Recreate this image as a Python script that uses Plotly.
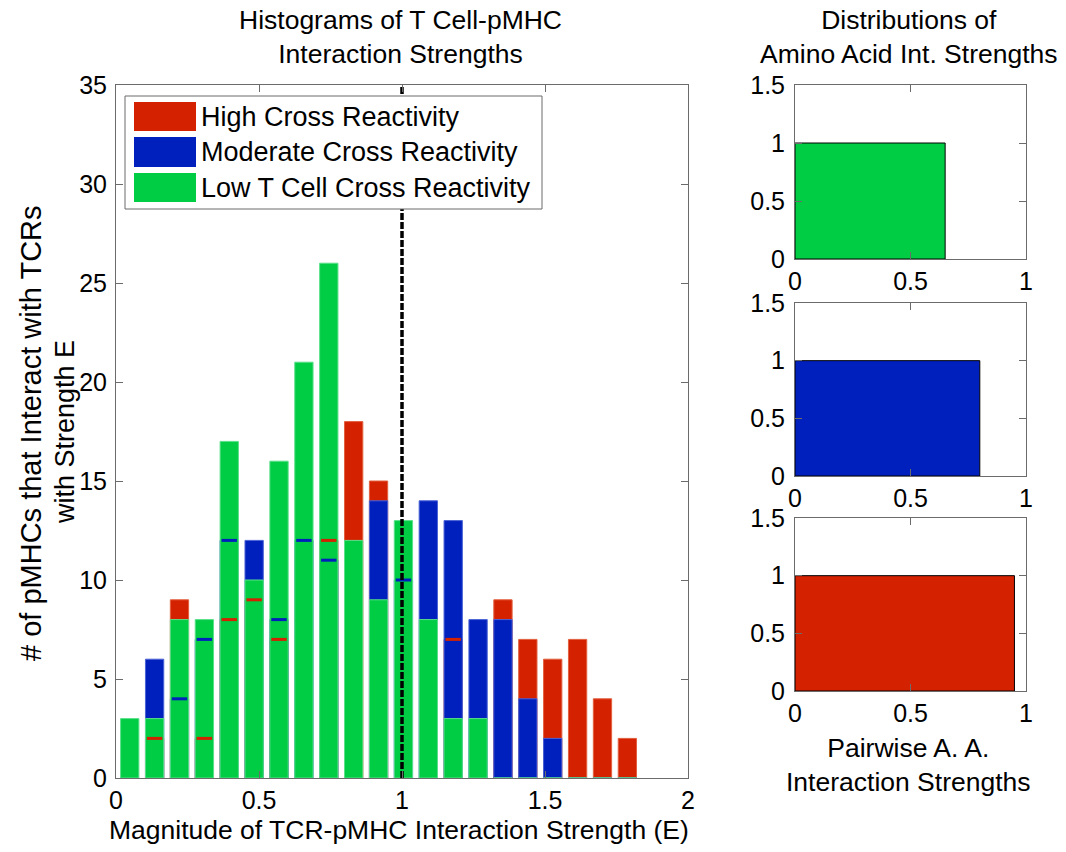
import plotly.graph_objects as go

# ---------------- data ----------------
bin_centers = [0.048, 0.135, 0.222, 0.309, 0.396, 0.483, 0.57, 0.657, 0.744, 0.831,
               0.918, 1.005, 1.092, 1.179, 1.266, 1.353, 1.44, 1.527, 1.614, 1.701, 1.788]
high_counts = [0, 2, 9, 2, 8, 9, 7, 0, 12, 18, 15, 0, 0, 7, 0, 9, 7, 6, 7, 4, 2]
moderate_counts = [0, 6, 4, 7, 12, 12, 8, 12, 11, 0, 14, 10, 14, 13, 8, 8, 4, 2, 0, 0, 0]
low_counts = [3, 3, 8, 8, 17, 10, 16, 21, 26, 12, 9, 13, 8, 3, 3, 0, 0, 0, 0, 0, 0]
series_names = ["High Cross Reactivity", "Moderate Cross Reactivity", "Low T Cell Cross Reactivity"]
series_colors = ["#D42100", "#0020BE", "#00CC44"]
edge_colors = ["#E2603F", "#4A63D6", "#5BE08A"]
threshold_E = 1.0

# amino-acid interaction strength distributions (one bin each)
aa_upper = {"low": 0.65, "moderate": 0.80, "high": 0.95}
aa_height = {"low": 1, "moderate": 1, "high": 1}

W, H = 1066, 852
FONT = "Liberation Sans"
AX = "#6b6b6b"
TFS = 25      # tick labels
FS = 26.5     # titles
LFS = 27      # legend

def px(x):
    return x / W

def py(y):
    return 1 - y / H

fig = go.Figure()

series = [high_counts, moderate_counts, low_counts]
for name, vals, col, ec in zip(series_names, series, series_colors, edge_colors):
    fig.add_trace(go.Bar(x=bin_centers, y=vals, width=0.064, name=name,
                         marker=dict(color=col, line=dict(color=ec, width=1)),
                         xaxis="x", yaxis="y", showlegend=False))

# hidden bar tops (drawn as short dashes)
for i, (vals, col) in enumerate(zip(series, series_colors)):
    hx, hy = [], []
    for k, v in enumerate(vals):
        later = [s[k] for s in series[i + 1:]]
        if v > 0 and later and v < max(later):
            hx.append(bin_centers[k])
            hy.append(v)
    if hx:
        fig.add_trace(go.Scatter(x=hx, y=hy, mode="markers", showlegend=False,
                                 marker=dict(symbol="line-ew", size=11,
                                             line=dict(color=col, width=3)),
                                 xaxis="x", yaxis="y"))

# threshold line
fig.add_trace(go.Scatter(x=[threshold_E, threshold_E], y=[0, 35], mode="lines",
                         line=dict(color="black", width=3.5, dash="7px,2px"),
                         showlegend=False, xaxis="x", yaxis="y"))

# right panels
for key, col, xa, ya in [("low", series_colors[2], "x2", "y2"),
                         ("moderate", series_colors[1], "x3", "y3"),
                         ("high", series_colors[0], "x4", "y4")]:
    fig.add_trace(go.Bar(x=[0], y=[aa_height[key]], width=[aa_upper[key]], offset=0,
                         marker=dict(color=col, line=dict(color="black", width=1)),
                         showlegend=False, xaxis=xa, yaxis=ya))

tickfont = dict(family=FONT, size=TFS, color="black")
common = dict(showline=True, linecolor=AX, linewidth=1, mirror="ticks", ticks="inside",
              tickcolor=AX, ticklen=7, showgrid=False, zeroline=False, tickfont=tickfont,
              automargin=False)

main_x = [116, 688]
main_y = [85, 778]
rx = [795, 1026]
ry = [[85, 259], [303, 476], [518, 691]]

fig.update_layout(
    width=W, height=H, margin=dict(l=0, r=0, t=0, b=0, autoexpand=False),
    paper_bgcolor="white", plot_bgcolor="white", barmode="overlay",
    font=dict(family=FONT, size=FS, color="black"),
    xaxis=dict(domain=[px(main_x[0]), px(main_x[1])], range=[0, 2], tickvals=[0, 0.5, 1, 1.5, 2],
               ticktext=["0", "0.5", "1", "1.5", "2"], anchor="y", **common),
    yaxis=dict(domain=[py(main_y[1]), py(main_y[0])], range=[0, 35], tickvals=list(range(0, 36, 5)),
               anchor="x", ticklabelstandoff=3, **common),
)
for i, (xa, ya) in enumerate([("xaxis2", "yaxis2"), ("xaxis3", "yaxis3"), ("xaxis4", "yaxis4")]):
    n = i + 2
    fig.update_layout(**{
        xa: dict(domain=[px(rx[0]), px(rx[1])], range=[0, 1], tickvals=[0, 0.5, 1],
                 ticktext=["0", "0.5", "1"], anchor=f"y{n}", **common),
        ya: dict(domain=[py(ry[i][1]), py(ry[i][0])], range=[0, 1.5], tickvals=[0, 0.5, 1, 1.5],
                 ticktext=["0", "0.5", "1", "1.5"], anchor=f"x{n}", ticklabelstandoff=4, **common),
    })

# legend drawn inside the main axes
def dx(p):
    return (p - main_x[0]) / (main_x[1] - main_x[0])

def dy(p):
    return 1 - (p - main_y[0]) / (main_y[1] - main_y[0])

shapes = [dict(type="rect", xref="x domain", yref="y domain", x0=dx(125), x1=dx(542),
               y0=dy(209), y1=dy(96), line=dict(color=AX, width=1), fillcolor="white", layer="above")]
rows = [(102, 131), (137, 167), (173, 202)]
annotations = []
for (t, b), name, col in zip(rows, series_names, series_colors):
    shapes.append(dict(type="rect", xref="x domain", yref="y domain", x0=dx(134), x1=dx(196),
                       y0=dy(b), y1=dy(t), line=dict(color=col, width=0), fillcolor=col, layer="above"))
    annotations.append(dict(xref="x domain", yref="y domain", x=dx(199), y=dy((t + b) / 2),
                            text=name, showarrow=False, xanchor="left", yanchor="middle",
                            font=dict(family=FONT, size=LFS, color="black")))

txt = dict(family=FONT, size=FS, color="black")
annotations += [
    dict(xref="paper", yref="paper", x=px(400), y=py(37), text="Histograms of T Cell-pMHC<br>Interaction Strengths",
         showarrow=False, xanchor="center", yanchor="middle", font=txt),
    dict(xref="paper", yref="paper", x=px(909), y=py(37), text="Distributions of<br>Amino Acid Int. Strengths",
         showarrow=False, xanchor="center", yanchor="middle", font=txt),
    dict(xref="paper", yref="paper", x=px(399), y=py(830), text="Magnitude of TCR-pMHC Interaction Strength (E)",
         showarrow=False, xanchor="center", yanchor="middle", font=txt),
    dict(xref="paper", yref="paper", x=px(908), y=py(765), text="Pairwise A. A.<br>Interaction Strengths",
         showarrow=False, xanchor="center", yanchor="middle", font=txt),
    dict(xref="paper", yref="paper", x=px(31), y=py(433), text="# of pMHCs that Interact with TCRs",
         showarrow=False, xanchor="center", yanchor="middle", textangle=-90,
         font=dict(family=FONT, size=29, color="black")),
    dict(xref="paper", yref="paper", x=px(65), y=py(432), text="with Strength E",
         showarrow=False, xanchor="center", yanchor="middle", textangle=-90,
         font=dict(family=FONT, size=27, color="black")),
]
fig.update_layout(shapes=shapes, annotations=annotations)

fig.write_html("out.html")
